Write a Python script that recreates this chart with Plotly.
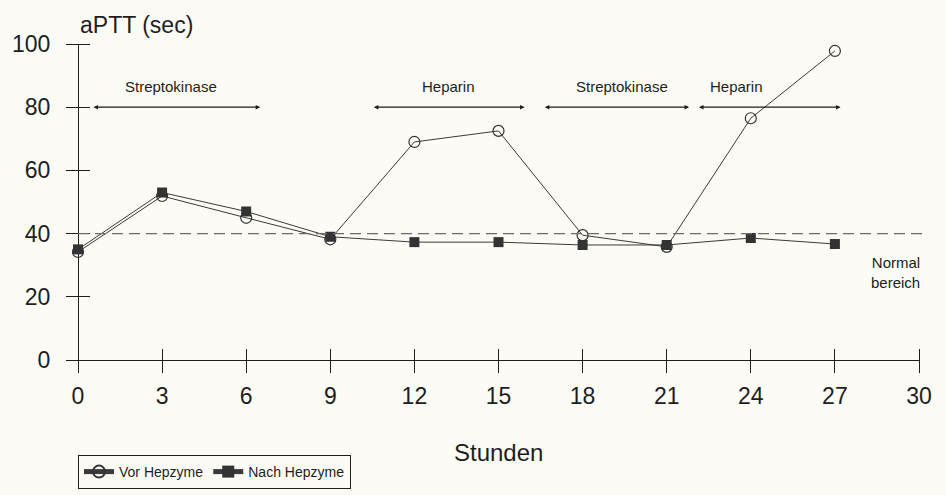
import plotly.graph_objects as go

# ---- data ----
hours = [0, 3, 6, 9, 12, 15, 18, 21, 24, 27]
vor_hepzyme = [34.2, 51.9, 45.0, 38.2, 69.0, 72.5, 39.5, 35.8, 76.5, 97.8]
nach_hepzyme = [35.0, 53.0, 47.0, 39.0, 37.3, 37.3, 36.4, 36.4, 38.6, 36.7]
x_ticks = [0, 3, 6, 9, 12, 15, 18, 21, 24, 27, 30]
y_ticks = [0, 20, 40, 60, 80, 100]
normal_limit = 40
therapy_labels = ["Streptokinase", "Heparin", "Streptokinase", "Heparin"]
therapy_start = [0.5, 10.5, 16.6, 22.1]
therapy_end = [6.5, 15.93, 21.8, 27.2]
therapy_label_x = [3.32, 13.2, 19.4, 23.5]
arrow_level = 80
label_level = 86.4

BG = "#fcfbf5"
INK = "#1e1e1e"
LINE = "#3a3a3a"
FONT = "Liberation Sans, Arial, sans-serif"

W, H = 946, 495
M = dict(l=78, r=27, t=44, b=135, autoexpand=False)
plot_w = W - M["l"] - M["r"]
plot_h = H - M["t"] - M["b"]
half_tick = 12

fig = go.Figure()
fig.add_trace(go.Scatter(
    x=hours, y=vor_hepzyme, mode="lines+markers", name="Vor Hepzyme",
    line=dict(color=LINE, width=1),
    marker=dict(symbol="circle-open", size=11, color="#333333", line=dict(width=1.2)),
    cliponaxis=False,
))
fig.add_trace(go.Scatter(
    x=hours, y=nach_hepzyme, mode="lines+markers", name="Nach Hepzyme",
    line=dict(color=LINE, width=1),
    marker=dict(symbol="square", size=10, color="#333333"),
    cliponaxis=False,
))

tick_common = dict(
    showgrid=False, showline=False, automargin=False,
    zeroline=True, zerolinecolor=INK, zerolinewidth=1.4,
    tickcolor=INK, tickwidth=1, ticklen=2 * half_tick, ticks="outside",
    tickfont=dict(family=FONT, size=23, color=INK),
)

fig.update_layout(
    width=W, height=H, autosize=False,
    paper_bgcolor=BG, plot_bgcolor=BG,
    margin=M,
    font=dict(family=FONT, color=INK),
    # axes drawn "free", shifted by half a tick so that ticks cross the zero lines
    xaxis=dict(range=[0, 30], tickvals=x_ticks, anchor="free",
               position=half_tick / plot_h, ticklabelstandoff=3, **tick_common),
    yaxis=dict(range=[0, 100], tickvals=y_ticks, anchor="free",
               position=half_tick / plot_w, ticklabelstandoff=11, **tick_common),
    legend=dict(orientation="h", x=0, xanchor="left", y=-112 / plot_h, yanchor="middle",
                bgcolor=BG, bordercolor=INK, borderwidth=1, itemwidth=30,
                font=dict(family=FONT, size=14, color=INK),
                tracegroupgap=0, itemsizing="constant"),
    showlegend=True,
)

# normal range reference line
fig.add_shape(type="line", xref="x domain", yref="y", x0=0, x1=1.008,
              y0=normal_limit, y1=normal_limit,
              line=dict(color="#6a6a6a", width=1.2, dash="11px,6px"))

# therapy arrows and labels
for lab, x0, x1, lx in zip(therapy_labels, therapy_start, therapy_end, therapy_label_x):
    fig.add_annotation(x=x1, y=arrow_level, ax=x0, ay=arrow_level,
                       xref="x", yref="y", axref="x", ayref="y",
                       text="", showarrow=True, arrowside="end+start",
                       arrowhead=2, arrowsize=0.7, arrowwidth=1.3, arrowcolor=INK)
    fig.add_annotation(x=lx, y=label_level, xref="x", yref="y", text=lab,
                       showarrow=False, font=dict(family=FONT, size=15, color=INK))

# titles / notes
fig.add_annotation(x=0, y=1 + 19 / plot_h, xref="paper", yref="paper", text="aPTT (sec)",
                   xanchor="left", yanchor="middle", showarrow=False,
                   font=dict(family=FONT, size=23, color=INK))
fig.add_annotation(x=0.5, y=-92 / plot_h, xref="paper", yref="paper", text="Stunden",
                   xanchor="center", yanchor="middle", showarrow=False,
                   font=dict(family=FONT, size=24, color=INK))
fig.add_annotation(x=1.003, y=27.8, xref="paper", yref="y", text="Normal<br>bereich",
                   xanchor="right", yanchor="middle", align="right", showarrow=False,
                   font=dict(family=FONT, size=15, color=INK))

fig.write_html(
    "out.html",
    config={"responsive": False, "displayModeBar": False},
    post_script="document.body.style.margin='0';document.body.style.overflow='hidden';",
)
